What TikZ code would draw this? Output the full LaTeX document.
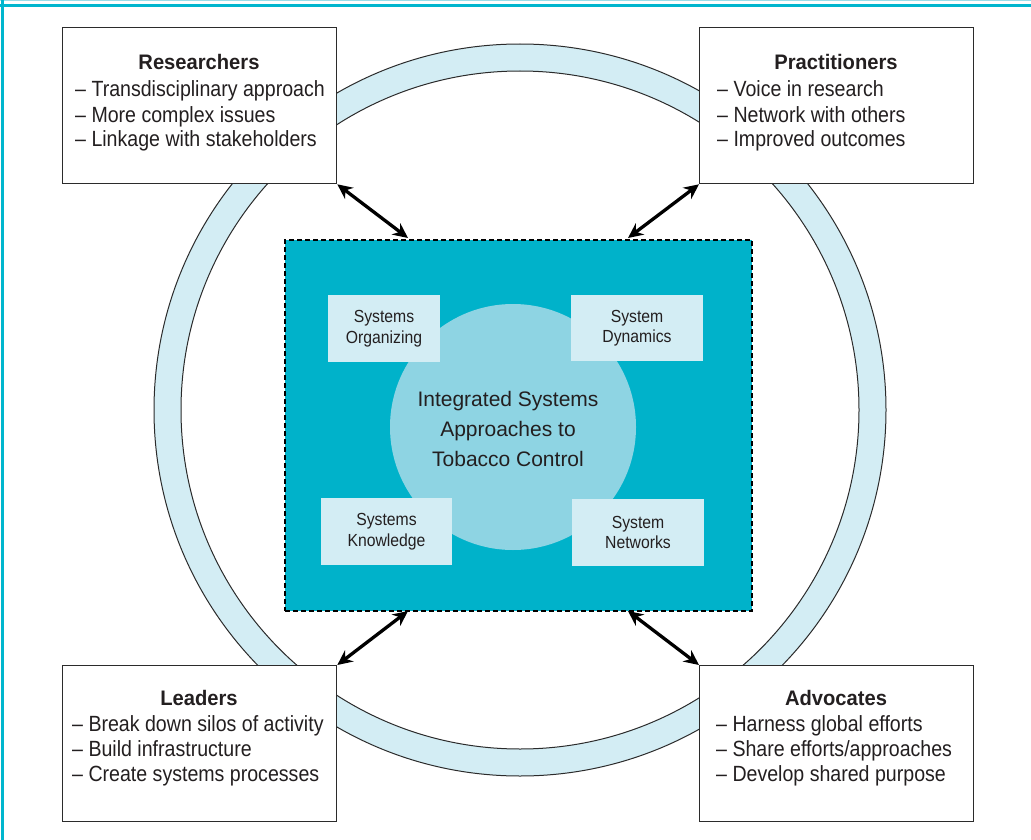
\documentclass[tikz,border=0pt]{standalone}
\usepackage{fontspec}
\setmainfont{Liberation Sans}[FakeStretch=0.9]
\newfontfamily\itemfont{Liberation Sans}[FakeStretch=0.89]
\newfontfamily\titlefont{Liberation Sans}[FakeStretch=0.96]
\newfontfamily\centerfont{Liberation Sans}
\usetikzlibrary{arrows.meta}
\definecolor{framecol}{HTML}{00B6CE}
\definecolor{framelight}{HTML}{9ADCE8}
\definecolor{tealbg}{HTML}{00B2CA}
\definecolor{circcol}{HTML}{8ED4E3}
\definecolor{pale}{HTML}{D3EDF4}
\definecolor{edgecol}{HTML}{2B2B2B}
\definecolor{ink}{HTML}{231F20}
\begin{document}
\begin{tikzpicture}[x=1pt,y=-1pt,
  bigbox/.style={draw=edgecol, line width=1.3pt, fill=white, minimum width=274pt, minimum height=156pt, inner sep=0pt, anchor=north west},
  ttl/.style={font=\titlefont\bfseries\fontsize{21}{25}\selectfont, anchor=base, inner sep=0pt, text=ink},
  item/.style={font=\itemfont\fontsize{22}{25}\selectfont, anchor=base west, inner sep=0pt, text=ink},
  sbox/.style={fill=pale, inner sep=0pt, font=\fontsize{17.5}{20.5}\selectfont, align=center, text=ink},
  link/.style={line width=3.3pt, {Stealth[length=15pt,width=14pt]}-{Stealth[length=15pt,width=14pt]}}
]
\useasboundingbox (0,0) rectangle (1031,840);
% frame
\fill[framelight] (0,0) rectangle (1031,1.2);
\fill[framecol] (0,4) rectangle (1031,7);
\fill[framecol] (1,0) rectangle (3.5,840);
% ring
\fill[pale, even odd rule] (520,410) circle[radius=366pt] (520,410) circle[radius=339pt];
\draw[edgecol, line width=1pt] (520,410) circle[radius=366pt] (520,410) circle[radius=339pt];
% central block
\node[draw=black, dashed, dash pattern=on 5pt off 3pt, line width=1.5pt, fill=tealbg, minimum width=467pt, minimum height=371pt, inner sep=0pt, anchor=north west] (core) at (284,239) {};
\node[circle, fill=circcol, minimum size=246pt, inner sep=0pt] (hub) at (513,427) {};
\node[font=\centerfont\fontsize{21}{30}\selectfont, align=center, text=ink] (hubtext) at (508,429) {Integrated Systems\\Approaches to\\Tobacco Control};
\node[sbox, minimum width=112pt, minimum height=67pt] (sorg) at (384,328.5) {Systems\\Organizing};
\node[sbox, minimum width=132pt, minimum height=66pt] (sdyn) at (637,328) {System\\Dynamics};
\node[sbox, minimum width=131pt, minimum height=67pt] (skno) at (386.5,531.5) {Systems\\Knowledge};
\node[sbox, minimum width=132pt, minimum height=67pt] (snet) at (638,532.5) {System\\Networks};
% stakeholder boxes
\node[bigbox] (res) at (62,27) {};
\node[ttl] (rest) at (199,70) {Researchers};
\node[item] (res1) at (75,97) {– Transdisciplinary approach};
\node[item] (res2) at (75,122.5) {– More complex issues};
\node[item] (res3) at (75,147) {– Linkage with stakeholders};

\node[bigbox] (pra) at (699,27) {};
\node[ttl] (prat) at (836,70) {Practitioners};
\node[item] (pra1) at (717,97) {– Voice in research};
\node[item] (pra2) at (717,122.5) {– Network with others};
\node[item] (pra3) at (717,147) {– Improved outcomes};

\node[bigbox] (lea) at (62,665) {};
\node[ttl] (leat) at (199,705) {Leaders};
\node[item] (lea1) at (72,731) {– Break down silos of activity};
\node[item] (lea2) at (72,756) {– Build infrastructure};
\node[item] (lea3) at (72,781) {– Create systems processes};

\node[bigbox] (adv) at (699,665) {};
\node[ttl] (advt) at (836,705) {Advocates};
\node[item] (adv1) at (716,731) {– Harness global efforts};
\node[item] (adv2) at (716,756) {– Share efforts/approaches};
\node[item] (adv3) at (716,781) {– Develop shared purpose};
% connectors
\coordinate (ctl) at (408,238);
\coordinate (ctr) at (628,238);
\coordinate (cbl) at (408,611);
\coordinate (cbr) at (628,611);
\draw[link] (res.south east) -- (ctl);
\draw[link] (pra.south west) -- (ctr);
\draw[link] (cbl) -- (lea.north east);
\draw[link] (cbr) -- (adv.north west);
\end{tikzpicture}
\end{document}
